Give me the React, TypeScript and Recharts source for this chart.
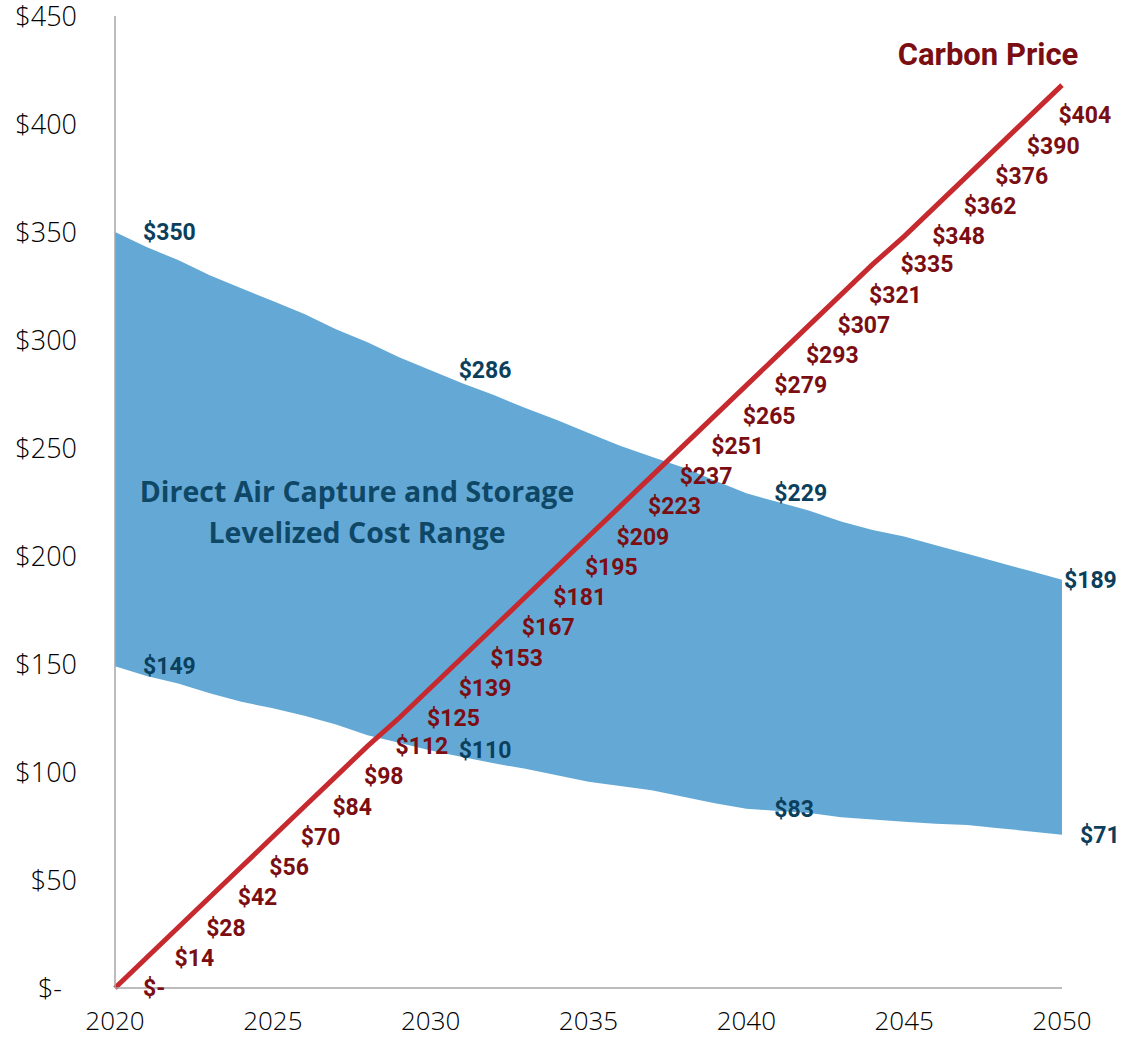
import { ComposedChart, Area, Line, XAxis, YAxis, LabelList } from "recharts";

const years = [
  2020, 2021, 2022, 2023, 2024, 2025, 2026, 2027, 2028, 2029, 2030, 2031, 2032, 2033, 2034, 2035,
  2036, 2037, 2038, 2039, 2040, 2041, 2042, 2043, 2044, 2045, 2046, 2047, 2048, 2049, 2050,
];
const carbonPrice = [
  0, 14, 28, 42, 56, 70, 84, 98, 112, 125, 139, 153, 167, 181, 195, 209, 223, 237, 251, 265, 279,
  293, 307, 321, 335, 348, 362, 376, 390, 404, 418,
];
const dacHigh = [
  350, 343, 337, 330, 324, 318, 312, 305, 299, 292, 286, 280, 274.5, 268.5, 263, 257, 251, 246,
  241, 235, 229, 225, 221, 216, 212, 209, 205, 201, 197, 193, 189,
];
const dacLow = [
  149, 144.5, 141, 136.5, 132.5, 129.5, 126, 122, 117, 113.5, 110, 107, 104, 101.5, 98.5, 95.5,
  93.5, 91.5, 88.5, 85.5, 83, 82, 81, 79, 78, 77, 76, 75.5, 74, 72.5, 71,
];
const labelledDacYears = [2020, 2030, 2040, 2050];
const xTicks = [2020, 2025, 2030, 2035, 2040, 2045, 2050];
const yTicks = [0, 50, 100, 150, 200, 250, 300, 350, 400, 450];

const rows = years.map((year, i) => ({
  year,
  carbon: carbonPrice[i],
  high: dacHigh[i],
  low: dacLow[i],
  range: [dacLow[i], dacHigh[i]],
}));

const W = 1148;
const H = 1038;
const RED = "#c62a2f";
const DARK_RED = "#7a0e12";
const TEAL = "#0c3f5c";
const BAND = "#64a9d6";
const AXIS = "#a6a6a6";
const TICK_FONT = "'Open Sans', sans-serif";
const BOLD_FONT = "Roboto, sans-serif";

const money = (v: number) => (v === 0 ? "$-" : `$${Math.round(v)}`);

function XTick(props: any) {
  const { x, y, payload } = props;
  return (
    <text x={x} y={y} dy={36} textAnchor="middle" fontFamily={TICK_FONT} fontWeight={300} fontSize={26} fill="#000">
      {payload.value}
    </text>
  );
}

function YTick(props: any) {
  const { x, y, payload } = props;
  const zero = payload.value === 0;
  return (
    <text x={zero ? x - 15 : x} y={y} dy={10} textAnchor="end" fontFamily={TICK_FONT} fontWeight={300} fontSize={27} fill="#000">
      {money(payload.value)}
    </text>
  );
}

function CarbonLabel(props: any) {
  const { x, y, value, index } = props;
  if (index >= years.length - 1) return null;
  return (
    <text x={x + 28} y={y} dy={8} fontFamily={BOLD_FONT} fontWeight={700} fontSize={23} fill={DARK_RED}>
      {money(value)}
    </text>
  );
}

function DacLabel(props: any) {
  const { x, y, value, index, high } = props;
  if (!labelledDacYears.includes(years[index])) return null;
  const last = index === years.length - 1;
  const dx = last ? (high ? 2 : 18) : 28;
  return (
    <text x={x + dx} y={y} dy={8} fontFamily={BOLD_FONT} fontWeight={700} fontSize={23} fill={TEAL}>
      {money(value)}
    </text>
  );
}

export default function App() {
  return (
    <div style={{ position: "absolute", left: 0, top: 0, width: W, height: H, background: "#fff" }}>
      <ComposedChart width={W} height={H} data={rows} margin={{ top: 16, right: 86, bottom: 0, left: 0 }}>
        <XAxis
          dataKey="year"
          type="number"
          domain={[2020, 2050]}
          ticks={xTicks}
          interval={0}
          height={50}
          tickLine={false}
          tickMargin={0}
          axisLine={{ stroke: AXIS, strokeWidth: 1.5 }}
          tick={<XTick />}
        />
        <YAxis
          type="number"
          domain={[0, 450]}
          ticks={yTicks}
          interval={0}
          width={115}
          tickLine={false}
          tickMargin={32}
          axisLine={{ stroke: AXIS, strokeWidth: 1.5 }}
          tick={<YTick />}
        />
        <Area dataKey="range" type="linear" fill={BAND} fillOpacity={1} stroke="none" isAnimationActive={false} />
        <Line dataKey="high" stroke="none" dot={false} activeDot={false} isAnimationActive={false}>
          <LabelList dataKey="high" content={(p: any) => <DacLabel {...p} high />} />
        </Line>
        <Line dataKey="low" stroke="none" dot={false} activeDot={false} isAnimationActive={false}>
          <LabelList dataKey="low" content={(p: any) => <DacLabel {...p} />} />
        </Line>
        <Line
          dataKey="carbon"
          type="linear"
          stroke={RED}
          strokeWidth={5}
          dot={false}
          activeDot={false}
          isAnimationActive={false}
        >
          <LabelList dataKey="carbon" content={(p: any) => <CarbonLabel {...p} />} />
        </Line>
      </ComposedChart>
      <svg width={W} height={H} style={{ position: "absolute", left: 0, top: 0, pointerEvents: "none" }}>
        <text x={988} y={65} textAnchor="middle" fontFamily={BOLD_FONT} fontWeight={700} fontSize={31} fill={DARK_RED}>
          Carbon Price
        </text>
        <text textAnchor="middle" fontFamily={TICK_FONT} fontWeight={700} fontSize={28.5} fill="#0f4766">
          <tspan x={357} y={502}>Direct Air Capture and Storage</tspan>
          <tspan x={357} y={543}>Levelized Cost Range</tspan>
        </text>
      </svg>
    </div>
  );
}
